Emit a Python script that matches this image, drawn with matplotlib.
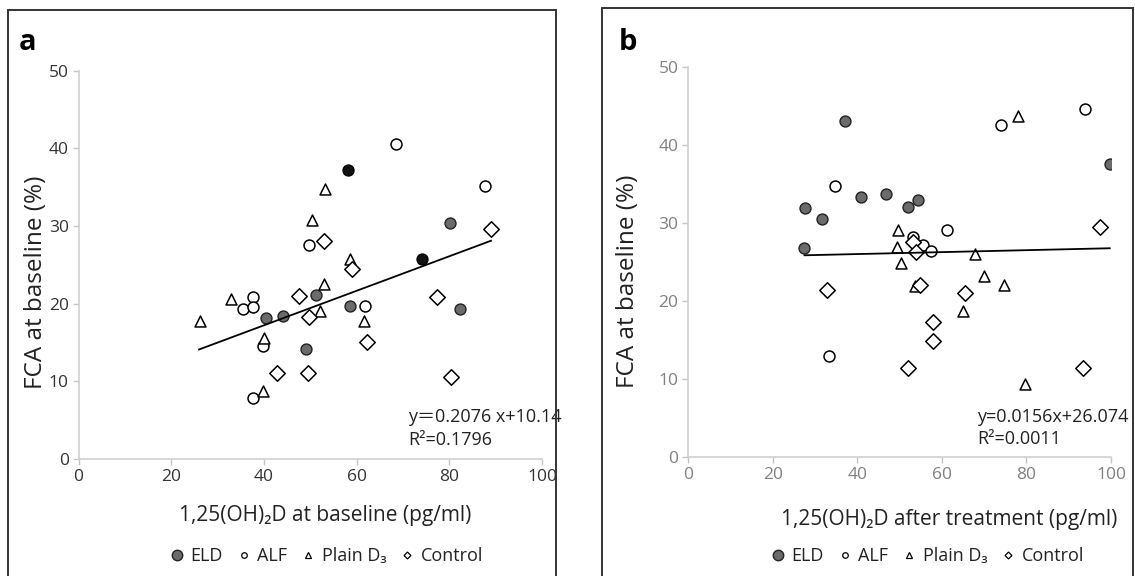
import matplotlib
matplotlib.use("Agg")
import matplotlib.pyplot as plt
from matplotlib.patches import Rectangle
from matplotlib.lines import Line2D

plt.rcParams["font.family"] = ["Open Sans", "DejaVu Sans", "Noto Sans CJK JP"]

# panel a: 1,25(OH)2D at baseline vs FCA at baseline
a_eld_x = [40.4, 44.1, 49.1, 51.2, 58.6, 80.1, 82.4]
a_eld_y = [18.1, 18.4, 14.1, 21.1, 19.7, 30.4, 19.3]
a_eld_dark_x = [58.1, 74.1]
a_eld_dark_y = [37.2, 25.7]
a_alf_x = [68.6, 87.7, 49.8, 37.6, 35.4, 37.6, 39.9, 37.6, 61.9]
a_alf_y = [40.5, 35.2, 27.6, 20.8, 19.3, 19.6, 14.5, 7.9, 19.7]
a_d3_x = [26.3, 32.8, 40.1, 39.9, 50.3, 53.2, 53.0, 52.2, 58.6, 61.6]
a_d3_y = [17.8, 20.6, 15.6, 8.7, 30.8, 34.7, 22.5, 19.1, 25.8, 17.8]
a_ctl_x = [47.5, 53.0, 59.1, 49.8, 42.9, 49.5, 62.2, 77.3, 80.3, 89.1]
a_ctl_y = [21.0, 28.1, 24.5, 18.3, 11.1, 11.1, 15.1, 20.8, 10.6, 29.6]
a_trend_x = [26.0, 89.0]
a_trend_y = [14.1, 28.1]

# panel b: 1,25(OH)2D after treatment vs FCA at baseline
b_eld_x = [37.0, 27.6, 31.7, 27.4, 40.9, 46.7, 52.0, 54.4, 99.7]
b_eld_y = [43.1, 32.0, 30.6, 26.8, 33.4, 33.8, 32.1, 33.0, 37.6]
b_alf_x = [93.9, 74.0, 34.6, 61.2, 53.2, 55.6, 57.4, 33.3]
b_alf_y = [44.6, 42.6, 34.8, 29.2, 28.2, 27.2, 26.5, 13.0]
b_d3_x = [77.9, 49.7, 49.4, 50.3, 67.8, 70.0, 74.8, 53.7, 64.9, 79.6]
b_d3_y = [43.7, 29.1, 26.9, 24.9, 26.1, 23.2, 22.1, 22.0, 18.7, 9.4]
b_ctl_x = [97.4, 32.8, 54.9, 65.5, 57.8, 58.0, 52.0, 93.3, 53.1, 53.8]
b_ctl_y = [29.5, 21.4, 22.1, 21.1, 17.4, 14.9, 11.5, 11.4, 27.6, 26.3]
b_trend_x = [27.5, 99.7]
b_trend_y = [25.9, 26.8]

groups = ["ELD", "ALF", "Plain D\u2083", "Control"]
xticks = [0, 20, 40, 60, 80, 100]
yticks = [0, 10, 20, 30, 40, 50]

fig = plt.figure(figsize=(11.35, 5.76), dpi=100)
W, H = 1135, 576
TXT = "#222222"

# panel frames
fig.patches.append(Rectangle((8 / W, -0.05), 548 / W, 1.05 - 10 / H, transform=fig.transFigure,
                             fill=False, lw=1.4, ec="#333333"))
fig.patches.append(Rectangle((602 / W, -0.05), 531 / W, 1.05 - 8 / H, transform=fig.transFigure,
                             fill=False, lw=1.4, ec="#333333"))

ax1 = fig.add_axes([78.6 / W, 1 - 459 / H, (542 - 78.6) / W, (459 - 70.6) / H])
ax2 = fig.add_axes([688.3 / W, 1 - 457.3 / H, (1111 - 688.3) / W, (457.3 - 67.3) / H])

ms = 62
def draw(ax, eld, alf, d3, ctl, trend, tickcol):
    ax.scatter(eld[0], eld[1], s=ms, marker="o", facecolor="#6b6b6b", edgecolor="#222222", lw=1.0, zorder=3)
    ax.scatter(alf[0], alf[1], s=ms, marker="o", facecolor="white", edgecolor="black", lw=1.1, zorder=3)
    ax.scatter(d3[0], d3[1], s=ms, marker="^", facecolor="white", edgecolor="black", lw=1.1, zorder=3)
    ax.scatter(ctl[0], ctl[1], s=ms, marker="D", facecolor="white", edgecolor="black", lw=1.1, zorder=3)
    ax.plot(trend[0], trend[1], color="black", lw=1.3, zorder=4)
    ax.set_xlim(0, 100)
    ax.set_ylim(0, 50)
    ax.set_xticks(xticks)
    ax.set_yticks(yticks)
    for s in ["top", "right"]:
        ax.spines[s].set_visible(False)
    for s in ["left", "bottom"]:
        ax.spines[s].set_color("#cfcfcf")
        ax.spines[s].set_linewidth(1.2)
    ax.tick_params(length=4, width=1.0, color="#c4c4c4", labelsize=12.5, labelcolor=tickcol, pad=3)
    ax.patch.set_alpha(0)

draw(ax1, (a_eld_x, a_eld_y), (a_alf_x, a_alf_y), (a_d3_x, a_d3_y), (a_ctl_x, a_ctl_y),
     (a_trend_x, a_trend_y), "#333333")
ax1.scatter(a_eld_dark_x, a_eld_dark_y, s=ms, marker="o", facecolor="#111111", edgecolor="black", lw=1.0, zorder=3)
draw(ax2, (b_eld_x, b_eld_y), (b_alf_x, b_alf_y), (b_d3_x, b_d3_y), (b_ctl_x, b_ctl_y),
     (b_trend_x, b_trend_y), "#808080")

ax1.text(71.1, 5.35, "y\uff1d0.2076 x+10.14", fontsize=13, color=TXT, va="center", clip_on=False)
ax1.text(71.1, 2.4, "R\u00b2=0.1796", fontsize=13, color=TXT, va="center")
ax2.text(68.3, 5.2, "y=0.0156x+26.074", fontsize=13, color=TXT, va="center", clip_on=False)
ax2.text(68.3, 2.35, "R\u00b2=0.0011", fontsize=13, color=TXT, va="center")

fig.text(36 / W, 1 - 282 / H, "FCA at baseline (%)", rotation=90, fontsize=17.5, ha="center", va="center", color=TXT)
fig.text(628 / W, 1 - 281 / H, "FCA at baseline (%)", rotation=90, fontsize=17.5, ha="center", va="center", color=TXT)
fig.text(325 / W, 1 - 515 / H, "1,25(OH)\u2082D at baseline (pg/ml)", fontsize=15, ha="center", va="center", color=TXT)
fig.text(949 / W, 1 - 520 / H, "1,25(OH)\u2082D after treatment (pg/ml)", fontsize=15, ha="center", va="center", color=TXT)
fig.text(28 / W, 1 - 42 / H, "a", fontsize=21, fontweight="bold", ha="center", va="center")
fig.text(628 / W, 1 - 42 / H, "b", fontsize=21, fontweight="bold", ha="center", va="center")

handles = [
    Line2D([], [], ls="", marker="o", ms=7.5, mfc="#6b6b6b", mec="#222222", mew=1.0),
    Line2D([], [], ls="", marker="o", ms=4, mfc="white", mec="black", mew=0.9),
    Line2D([], [], ls="", marker="^", ms=4.5, mfc="white", mec="black", mew=0.9),
    Line2D([], [], ls="", marker="D", ms=3.5, mfc="white", mec="black", mew=0.9),
]
for cx in [325, 926]:
    fig.legend(handles, groups, loc="center", bbox_to_anchor=(cx / W, 1 - 556 / H), ncol=4, frameon=False,
               fontsize=13, handletextpad=0.2, columnspacing=0.6, handlelength=1.1,
               labelcolor=TXT)

fig.savefig("out.png", dpi=100)
